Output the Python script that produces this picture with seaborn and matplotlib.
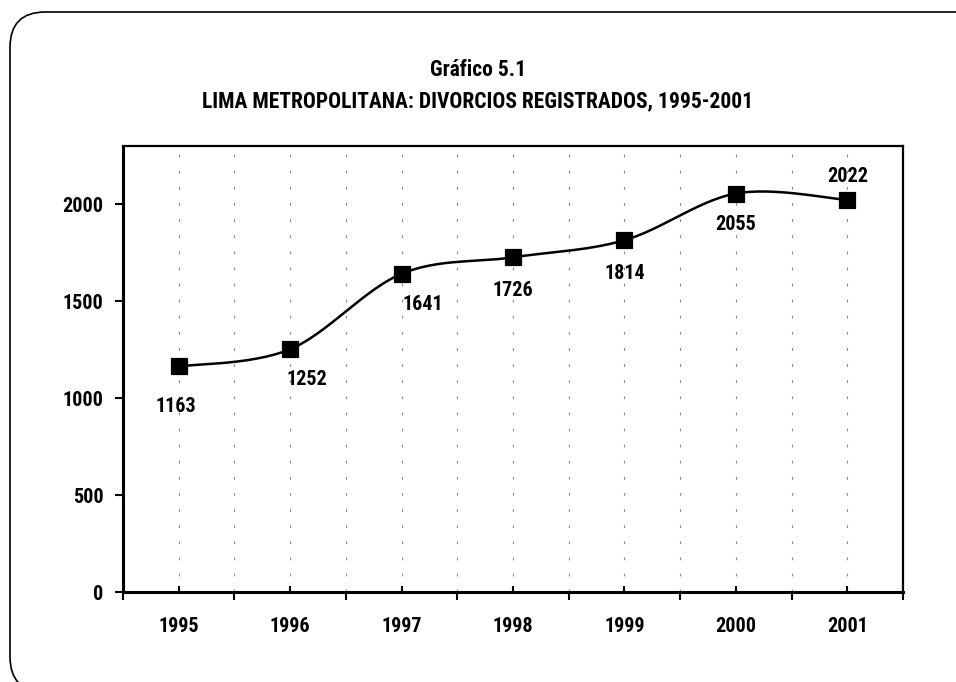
import numpy as np
import pandas as pd
import matplotlib
matplotlib.use("Agg")
import matplotlib.pyplot as plt
import seaborn as sns
from matplotlib.patches import FancyBboxPatch
from matplotlib import font_manager

# data
years = ["1995", "1996", "1997", "1998", "1999", "2000", "2001"]
divorces = [1163, 1252, 1641, 1726, 1814, 2055, 2022]

# label offsets in points (dx, dy), one per point
label_offsets = [(-2, -29), (12, -22), (15, -22), (0, -24), (0, -24), (0, -22), (0, 17)]

sns.set_theme(style="white")
names = {f.name for f in font_manager.fontManager.ttflist}
fams = [n for n in ["Liberation Sans Narrow", "Arial Narrow", "Roboto Condensed"] if n in names]
plt.rcParams["font.family"] = fams + ["DejaVu Sans"]
plt.rcParams["font.stretch"] = "condensed"
plt.rcParams["font.weight"] = "bold"
plt.rcParams["text.color"] = "black"
plt.rcParams["xtick.color"] = "black"
plt.rcParams["ytick.color"] = "black"

FS = 14.5


def smooth(x, y, n=30):
    """Excel-like smoothed line (Catmull-Rom bezier)."""
    x = np.asarray(x, float)
    y = np.asarray(y, float)
    # work in roughly pixel-proportional space
    sx, sy = 111.3, 97 / 500
    P = np.column_stack([x * sx, y * sy])
    P = np.vstack([P[0], P, P[-1]])
    out = []
    for i in range(1, len(P) - 2):
        p0, p1, p2, p3 = P[i - 1], P[i], P[i + 1], P[i + 2]
        c1 = p1 + (p2 - p0) / 6
        c2 = p2 - (p3 - p1) / 6
        t = np.linspace(0, 1, n)[:, None]
        seg = ((1 - t) ** 3) * p1 + 3 * ((1 - t) ** 2) * t * c1 + 3 * (1 - t) * t ** 2 * c2 + t ** 3 * p2
        out.append(seg if i == 1 else seg[1:])
    out = np.vstack(out)
    return out[:, 0] / sx, out[:, 1] / sy


xpos = np.arange(len(years))
df = pd.DataFrame({"x": xpos, "y": divorces})
sx_, sy_ = smooth(df["x"], df["y"])
curve = pd.DataFrame({"x": sx_, "y": sy_})

fig = plt.figure(figsize=(9.56, 6.82), dpi=100)
ax = fig.add_axes([123 / 956, 1 - 592 / 682, (903 - 123) / 956, (592 - 146) / 682])

# rounded frame around the figure
frame = FancyBboxPatch((10 / 956, -10 / 682), 985 / 956, 680 / 682,
                       boxstyle="round,pad=0,rounding_size=0.037",
                       transform=fig.transFigure, fill=False, edgecolor="black",
                       linewidth=1.2, mutation_aspect=956 / 682, clip_on=False)
fig.patches.append(frame)

sns.lineplot(data=curve, x="x", y="y", sort=False, estimator=None, color="black",
             linewidth=1.8, ax=ax, zorder=3)
sns.scatterplot(data=df, x="x", y="y", marker="s", s=120, color="black",
                edgecolor="black", ax=ax, zorder=4)

for xi, yi, (dx, dy) in zip(xpos, divorces, label_offsets):
    ax.annotate(f"{yi}", (xi, yi), xytext=(dx, dy), textcoords="offset points",
                ha="center", va="center", fontsize=FS, fontweight="bold")

ax.set_xlim(-0.5, len(years) - 0.5)
ax.set_ylim(0, 2300)
ax.set_xticks(xpos)
ax.set_xticklabels(years)
ax.set_xticks(np.arange(-0.5, len(years), 1.0), minor=True)
ax.set_yticks([0, 500, 1000, 1500, 2000])
ax.set_xlabel("")
ax.set_ylabel("")

ax.tick_params(axis="x", which="major", direction="in", length=4, width=1.5,
               labelsize=FS, pad=18)
ax.tick_params(axis="x", which="minor", direction="out", length=6, width=1.5)
ax.tick_params(axis="y", direction="out", length=6, width=1.5, labelsize=FS, pad=8)
ax.tick_params(left=True, bottom=True)
ax.tick_params(axis="x", which="minor", bottom=True)

ax.grid(False)
ax.xaxis.grid(True, which="both", color="#888888", linestyle=(0, (2.5, 12)), linewidth=0.8)
ax.set_axisbelow(True)

for side in ["left", "bottom"]:
    ax.spines[side].set_linewidth(2.2)
for side in ["top", "right"]:
    ax.spines[side].set_linewidth(1.6)
for s in ax.spines.values():
    s.set_color("black")

fig.text(478 / 956, 1 - 70 / 682, "Gráfico 5.1", ha="center", va="center",
         fontsize=15.5, fontweight="bold")
fig.text(478 / 956, 1 - 101 / 682, "LIMA METROPOLITANA: DIVORCIOS REGISTRADOS, 1995-2001",
         ha="center", va="center", fontsize=15.5, fontweight="bold")

fig.savefig("out.png", dpi=100)
